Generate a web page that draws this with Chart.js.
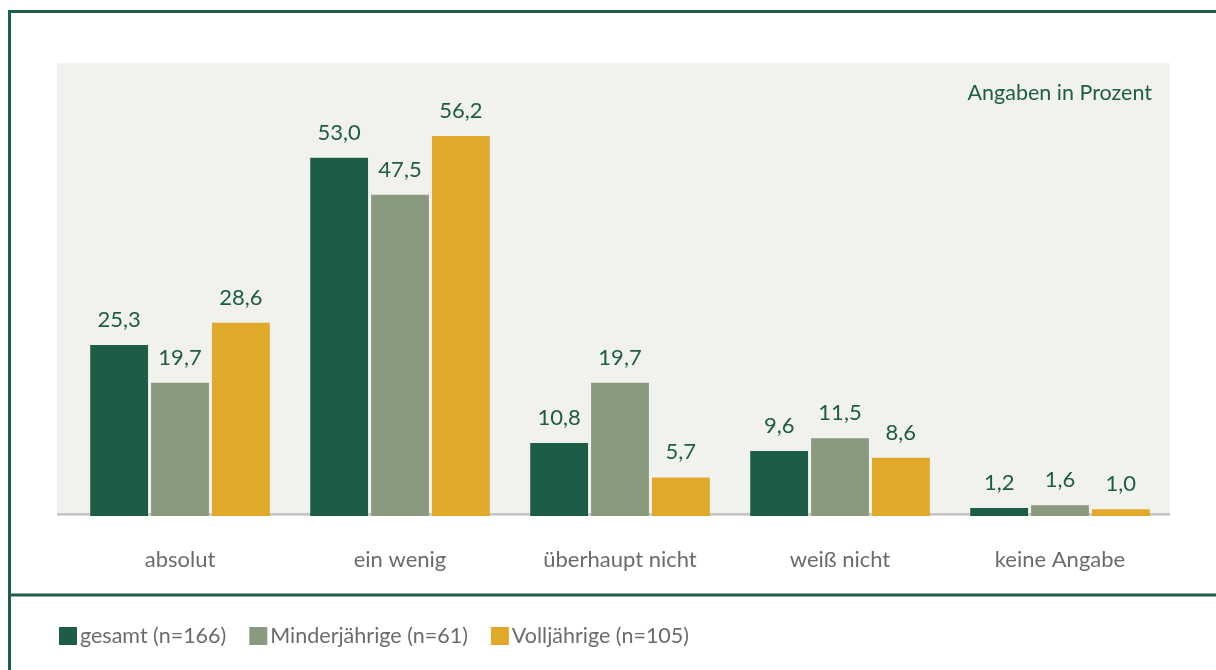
<!DOCTYPE html>
<html lang="de">
<head>
<meta charset="utf-8">
<title>Angaben in Prozent</title>
<script src="https://cdn.jsdelivr.net/npm/chart.js@4.4.1/dist/chart.umd.min.js"></script>
<style>
  html, body { margin: 0; padding: 0; background: #fff; }
  #wrap { width: 1216px; height: 670px; position: relative; }
</style>
</head>
<body>
<div id="wrap"><canvas id="chart" width="1216" height="670"></canvas></div>
<script>
// Categories and series
const categories = ['absolut', 'ein wenig', 'überhaupt nicht', 'weiß nicht', 'keine Angabe'];
const gesamt = [25.3, 53.0, 10.8, 9.6, 1.2];
const minderjaehrige = [19.7, 47.5, 19.7, 11.5, 1.6];
const volljaehrige = [28.6, 56.2, 5.7, 8.6, 1.0];
const seriesNames = ['gesamt (n=166)', 'Minderjährige (n=61)', 'Volljährige (n=105)'];
const seriesColors = ['#1d5c47', '#8a9a7f', '#e1a92a'];

const FONT = 'Lato, "Open Sans", sans-serif';
const GREEN = '#1d5c47';
const GREY_TEXT = '#6b6b6b';

// frame, grey plot panel, baseline, unit note and legend
const framePlugin = {
    id: 'frame',
    beforeDraw(chart) {
        const { ctx, chartArea } = chart;
        ctx.save();
        ctx.fillStyle = '#fff';
        ctx.fillRect(0, 0, chart.width, chart.height);
        // panel
        ctx.fillStyle = '#f1f1ed';
        ctx.fillRect(57, 63, chartArea.right - 57, chartArea.bottom - 63);
        // outer frame
        ctx.strokeStyle = '#1f5e4a';
        ctx.lineWidth = 3;
        ctx.beginPath();
        ctx.moveTo(9.5, chart.height + 5);
        ctx.lineTo(9.5, 11.5);
        ctx.lineTo(chart.width + 5, 11.5);
        ctx.moveTo(9.5, 595);
        ctx.lineTo(chart.width + 5, 595);
        ctx.stroke();
        // baseline
        const y0 = chart.scales.y.getPixelForValue(0);
        ctx.fillStyle = '#c6c6c2';
        ctx.fillRect(57, y0 - 3, chartArea.right - 57, 2.5);
        // note
        ctx.fillStyle = GREEN;
        ctx.font = '21.5px ' + FONT;
        ctx.textAlign = 'right';
        ctx.textBaseline = 'middle';
        ctx.fillText('Angaben in Prozent', 1152, 93);
        ctx.restore();
    },
    afterDraw(chart) {
        const { ctx } = chart;
        ctx.save();
        ctx.font = '21.5px ' + FONT;
        ctx.textBaseline = 'middle';
        ctx.textAlign = 'left';
        let x = 59;
        const y = 636;
        chart.data.datasets.forEach(ds => {
            ctx.fillStyle = ds.backgroundColor;
            ctx.fillRect(x, y - 9, 18, 18);
            x += 21;
            ctx.fillStyle = GREY_TEXT;
            ctx.fillText(ds.label, x, y);
            x += ctx.measureText(ds.label).width + 23;
        });
        ctx.restore();
    }
};

// value labels above each bar
const valueLabels = {
    id: 'valueLabels',
    afterDatasetsDraw(chart) {
        const { ctx } = chart;
        ctx.save();
        ctx.fillStyle = GREEN;
        ctx.font = '22px ' + FONT;
        ctx.textAlign = 'center';
        ctx.textBaseline = 'alphabetic';
        chart.data.datasets.forEach((ds, i) => {
            chart.getDatasetMeta(i).data.forEach((bar, j) => {
                const txt = ds.data[j].toFixed(1).replace('.', ',');
                ctx.fillText(txt, bar.x, bar.y - 18);
            });
        });
        ctx.restore();
    }
};

const ctx = document.getElementById('chart').getContext('2d');
new Chart(ctx, {
    type: 'bar',
    data: {
        labels: categories,
        datasets: [gesamt, minderjaehrige, volljaehrige].map((d, i) => ({
            label: seriesNames[i],
            data: d,
            backgroundColor: seriesColors[i],
            borderWidth: 0,
            barPercentage: 0.95,
            categoryPercentage: 0.83
        }))
    },
    options: {
        responsive: false,
        animation: false,
        layout: { padding: { left: 70, right: 46, top: 63, bottom: 74 } },
        plugins: {
            legend: { display: false },
            tooltip: { enabled: false }
        },
        scales: {
            x: {
                grid: { display: false, drawTicks: false },
                border: { display: false },
                ticks: { color: GREY_TEXT, font: { family: FONT, size: 22 }, padding: 31 },
                afterFit(scale) { scale.height = 80; }
            },
            y: {
                display: false,
                min: 0,
                max: 67
            }
        }
    },
    plugins: [framePlugin, valueLabels]
});
</script>
</body>
</html>
